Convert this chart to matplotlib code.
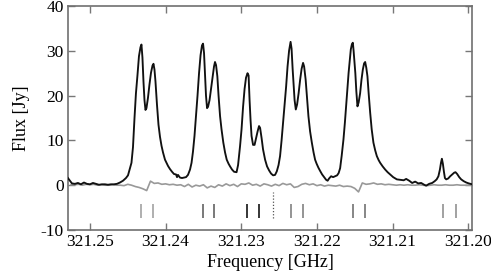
import matplotlib
matplotlib.use("Agg")
import matplotlib.pyplot as plt
import numpy as np

plt.rcParams['font.family'] = ['Liberation Serif', 'DejaVu Serif']
plt.rcParams['axes.unicode_minus'] = False

# Observed spectrum (frequency in GHz, flux in Jy)
spec_freq = [321.25291, 321.25265, 321.25238, 321.25198, 321.25159, 321.25119, 321.25079, 321.25040,
             321.25000, 321.24960, 321.24921, 321.24881, 321.24841, 321.24802, 321.24762, 321.24722,
             321.24683, 321.24643, 321.24603, 321.24563, 321.24524, 321.24497, 321.24471, 321.24451,
             321.24431, 321.24411, 321.24392, 321.24372, 321.24352, 321.24332, 321.24319, 321.24306,
             321.24292, 321.24279, 321.24266, 321.24253, 321.24233, 321.24213, 321.24193, 321.24173,
             321.24160, 321.24147, 321.24134, 321.24114, 321.24094, 321.24074, 321.24054, 321.24034,
             321.24008, 321.23988, 321.23968, 321.23942, 321.23915, 321.23889, 321.23862, 321.23849,
             321.23836, 321.23810, 321.23783, 321.23757, 321.23730, 321.23704, 321.23677, 321.23657,
             321.23638, 321.23618, 321.23598, 321.23578, 321.23558, 321.23538, 321.23519, 321.23505,
             321.23492, 321.23479, 321.23466, 321.23452, 321.23439, 321.23419, 321.23399, 321.23380,
             321.23360, 321.23347, 321.23333, 321.23316, 321.23300, 321.23280, 321.23261, 321.23237,
             321.23214, 321.23192, 321.23168, 321.23148, 321.23122, 321.23095, 321.23062, 321.23042,
             321.23029, 321.23016, 321.22996, 321.22976, 321.22956, 321.22937, 321.22917, 321.22903,
             321.22890, 321.22877, 321.22864, 321.22844, 321.22824, 321.22804, 321.22784, 321.22765,
             321.22751, 321.22731, 321.22712, 321.22685, 321.22659, 321.22632, 321.22606, 321.22579,
             321.22553, 321.22530, 321.22507, 321.22487, 321.22467, 321.22447, 321.22427, 321.22407,
             321.22388, 321.22368, 321.22348, 321.22335, 321.22321, 321.22308, 321.22295, 321.22279,
             321.22262, 321.22242, 321.22222, 321.22202, 321.22183, 321.22169, 321.22149, 321.22130,
             321.22112, 321.22090, 321.22067, 321.22044, 321.22024, 321.22004, 321.21980, 321.21958,
             321.21931, 321.21905, 321.21878, 321.21858, 321.21839, 321.21812, 321.21786, 321.21759,
             321.21733, 321.21713, 321.21693, 321.21673, 321.21649, 321.21630, 321.21614, 321.21597,
             321.21581, 321.21565, 321.21552, 321.21537, 321.21525, 321.21515, 321.21504, 321.21492,
             321.21479, 321.21464, 321.21448, 321.21429, 321.21411, 321.21393, 321.21376, 321.21362,
             321.21347, 321.21332, 321.21316, 321.21296, 321.21276, 321.21253, 321.21230, 321.21208,
             321.21184, 321.21164, 321.21131, 321.21098, 321.21065, 321.21032, 321.20992, 321.20943,
             321.20899, 321.20853, 321.20820, 321.20780, 321.20741, 321.20701, 321.20661, 321.20622,
             321.20582, 321.20556, 321.20516, 321.20476, 321.20443, 321.20417, 321.20394, 321.20374,
             321.20360, 321.20348, 321.20335, 321.20321, 321.20308, 321.20291, 321.20265, 321.20238,
             321.20212, 321.20185, 321.20168, 321.20146, 321.20119, 321.20093, 321.20060, 321.20026,
             321.19993, 321.19947]
spec_flux = [1.6, 1.0, 0.4, 0.3, 0.5, 0.2, 0.6, 0.3,
             0.2, 0.5, 0.3, 0.1, 0.2, 0.2, 0.1, 0.2,
             0.2, 0.3, 0.6, 1.0, 1.6, 2.2, 3.8, 5.0,
             8.5, 15.0, 20.5, 24.5, 28.8, 30.8, 31.4, 28.5,
             23.0, 19.0, 16.8, 17.2, 19.5, 22.5, 25.1, 26.7,
             27.1, 25.8, 23.2, 18.0, 13.5, 10.8, 8.8, 7.3,
             5.7, 5.0, 4.3, 3.6, 3.0, 2.5, 2.4, 1.8,
             2.3, 1.7, 1.6, 1.7, 1.8, 2.3, 3.5, 5.0,
             7.5, 11.0, 15.5, 20.0, 25.0, 29.0, 31.2, 31.6,
             29.5, 25.0, 20.0, 17.2, 17.5, 19.0, 21.5, 24.0,
             26.5, 27.5, 26.8, 24.3, 20.0, 15.4, 12.5, 9.5,
             7.3, 5.7, 4.8, 4.2, 3.5, 3.0, 2.9, 4.5,
             6.5, 8.7, 12.5, 17.5, 21.5, 24.0, 25.0, 24.5,
             19.0, 14.5, 11.0, 9.0, 9.0, 10.5, 12.0, 13.2,
             12.8, 10.5, 8.0, 5.7, 4.2, 3.3, 2.6, 2.2,
             2.3, 3.1, 4.5, 6.5, 10.0, 14.0, 18.0, 22.0,
             26.5, 30.0, 32.0, 30.5, 26.0, 22.5, 19.0, 16.9,
             18.0, 20.5, 23.5, 26.0, 27.3, 26.5, 23.6, 19.5,
             15.4, 12.0, 9.5, 7.3, 5.7, 4.8, 3.9, 3.2,
             2.4, 1.8, 1.2, 1.0, 1.5, 2.0, 1.8, 2.0,
             2.2, 2.7, 3.8, 6.5, 10.2, 14.0, 17.6, 21.5,
             25.1, 28.0, 30.3, 31.5, 31.8, 30.0, 27.5, 25.0,
             21.0, 17.6, 18.5, 20.5, 23.5, 25.8, 27.2, 27.5,
             26.2, 24.3, 20.5, 16.2, 12.5, 9.5, 7.8, 6.5,
             5.6, 5.0, 4.2, 3.5, 2.9, 2.4, 1.8, 1.3,
             1.2, 1.1, 1.4, 1.0, 0.5, 0.8, 0.4, 0.5,
             0.1, -0.1, 0.3, 0.5, 0.9, 1.3, 2.0, 3.5,
             5.0, 5.9, 4.8, 3.0, 1.6, 1.3, 1.5, 2.0,
             2.4, 2.8, 2.9, 2.5, 1.8, 1.3, 0.9, 0.6,
             0.4, 0.2]

# Residual (observed - model), GHz / Jy
resid_freq = [321.2525, 321.2520, 321.2515, 321.2510, 321.2505, 321.2500, 321.2495, 321.2490,
              321.2485, 321.2480, 321.2475, 321.2470, 321.2465, 321.2460, 321.2455, 321.2450,
              321.2445, 321.2440, 321.2435, 321.2430, 321.2425, 321.2420, 321.2415, 321.2410,
              321.2405, 321.2400, 321.2395, 321.2390, 321.2385, 321.2380, 321.2375, 321.2370,
              321.2365, 321.2360, 321.2355, 321.2350, 321.2345, 321.2340, 321.2335, 321.2330,
              321.2325, 321.2320, 321.2315, 321.2310, 321.2305, 321.2300, 321.2295, 321.2290,
              321.2285, 321.2280, 321.2275, 321.2270, 321.2265, 321.2260, 321.2255, 321.2250,
              321.2245, 321.2240, 321.2235, 321.2230, 321.2225, 321.2220, 321.2215, 321.2210,
              321.2205, 321.2200, 321.2195, 321.2190, 321.2185, 321.2180, 321.2175, 321.2170,
              321.2165, 321.2160, 321.2155, 321.2150, 321.2145, 321.2140, 321.2135, 321.2130,
              321.2125, 321.2120, 321.2115, 321.2110, 321.2105, 321.2100, 321.2095, 321.2090,
              321.2085, 321.2080, 321.2075, 321.2070, 321.2065, 321.2060, 321.2055, 321.2050,
              321.2045, 321.2040, 321.2035, 321.2030, 321.2025, 321.2020, 321.2015, 321.2010,
              321.2005, 321.2000, 321.1995]
resid_flux = [0.1, 0.1, 0.2, 0.0, 0.2, 0.1, 0.2, 0.0,
              0.1, 0.0, 0.0, 0.1, 0.0, 0.0, -0.1, 0.2,
              0.0, -0.3, -0.5, -0.8, -1.2, 0.9, 0.4, 0.5,
              0.2, 0.3, 0.1, 0.2, 0.0, 0.1, -0.3, 0.2,
              -0.4, 0.0, -0.2, 0.1, -0.6, -0.2, -0.5, 0.1,
              -0.2, 0.3, -0.1, 0.2, -0.3, 0.3, 0.2, 0.5,
              0.0, 0.2, -0.2, 0.3, 0.1, -0.2, 0.2, -0.1,
              0.4, 0.1, 0.3, -0.5, -0.3, 0.2, 0.4, 0.1,
              0.3, -0.1, 0.1, -0.2, 0.0, -0.1, -0.2, 0.0,
              -0.3, -0.2, -0.3, -0.7, -1.5, 0.5, 0.2, 0.3,
              0.5, 0.2, 0.3, 0.1, 0.2, 0.1, 0.0, 0.1,
              0.0, 0.1, 0.0, 0.0, 0.1, 0.0, -0.1, 0.0,
              0.1, 0.0, 0.0, 0.1, 0.0, 0.0, 0.1, 0.0,
              0.0, 0.0, 0.0]

# Transition rest frequencies (GHz) and their marker shades
line_freq = [321.24325, 321.24167, 321.23505, 321.23356, 321.22919, 321.22765,
             321.22345, 321.22187, 321.21525, 321.21366, 321.20331, 321.20168]
line_color = ['#9a9a9a', '#9a9a9a', '#555555', '#555555', '#000000', '#000000',
              '#777777', '#777777', '#666666', '#666666', '#888888', '#888888']
center_freq = 321.22583

xticks = [321.25, 321.24, 321.23, 321.22, 321.21, 321.20]
xticklabels = ['321.25', '321.24', '321.23', '321.22', '321.21', '321.20']
yticks = [-10, 0, 10, 20, 30, 40]

fig = plt.figure(figsize=(4.91, 2.78), dpi=100)
ax = fig.add_axes([68/491, 1 - 230/278, (472-68)/491, (230-6)/278])

ax.plot(resid_freq, resid_flux, color='#999999', lw=1.2, zorder=2)
ax.plot(spec_freq, spec_flux, color='#111111', lw=1.35, zorder=3)
ax.vlines(line_freq, -7.3, -4.1, colors=line_color, lw=1.1, zorder=2)
ax.vlines([center_freq], -7.4, -1.6, colors='#555555', lw=0.9, linestyles=(0, (1, 1.5)), zorder=2)

ax.set_xlim(321.2529, 321.1995)
ax.set_ylim(-10, 40)
ax.set_xticks(xticks)
ax.set_xticklabels(xticklabels)
ax.set_yticks(yticks)
ax.tick_params(direction='in', top=True, right=True, length=5, width=1, color='#777777',
               labelsize=12.5, pad=3)
for s in ax.spines.values():
    s.set_color('#707070')
    s.set_linewidth(1.2)
ax.set_xlabel('Frequency [GHz]', fontsize=13, labelpad=3)
ax.set_ylabel('Flux [Jy]', fontsize=13, labelpad=8)

fig.savefig('out.png', dpi=100)
